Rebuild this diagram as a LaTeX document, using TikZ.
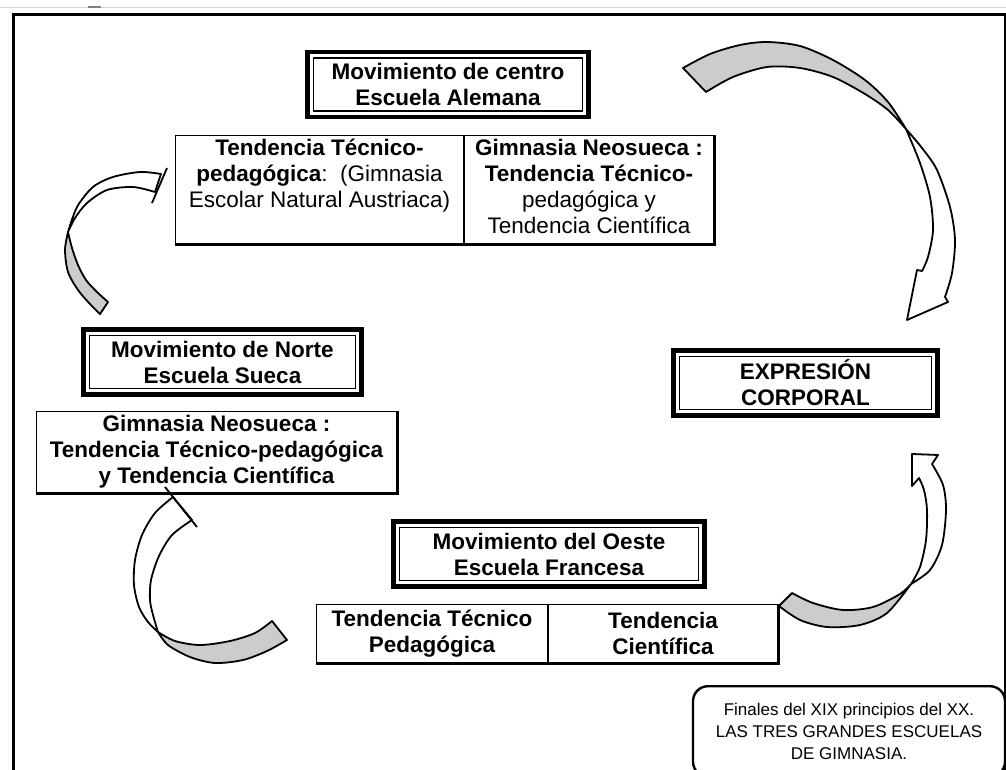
\documentclass[tikz,border=0pt]{standalone}
\usepackage{fontspec}
\setmainfont{Liberation Sans}
\usetikzlibrary{positioning}
\tikzset{
    txt/.style={
        align=center,
        inner sep=0pt,
        font=\fontsize{22.5}{26}\selectfont
    },
    btxt/.style={
        align=center,
        inner sep=0pt,
        font=\fontsize{22.5}{26}\selectfont\bfseries
    },
    cell/.style={
        rectangle,
        draw,
        line width=1pt
    },
    mvbox/.style={
        btxt,
        rectangle,
        draw,
        line width=1.2pt,
        minimum height=53pt
    },
    notebox/.style={
        rectangle,
        draw,
        rounded corners=15pt,
        line width=2.4pt,
        align=center,
        inner xsep=0pt,
        inner ysep=17pt,
        font=\fontsize{17}{22}\selectfont
    },
    backband/.style={fill=gray!40, draw, line width=1.8pt, line join=round},
    frontband/.style={fill=white, draw, line width=1.8pt, line join=round}
}
\begin{document}
\begin{tikzpicture}[x=1pt,y=-1pt]
    \clip (0,0) rectangle (1006,770);
    \fill[white] (0,0) rectangle (1006,770);
    \draw[gray!35, line width=1pt] (0,8) -- (1006,8);
    \draw[gray, line width=2pt] (88,7) -- (101,7);
    \draw[line width=3pt] (13,790) -- (13,15) -- (1005,15) -- (1005,790);

    % the four schools
    \node[mvbox, minimum width=269pt] (alem) at (448,84.5) {Movimiento de centro\\Escuela Alemana};
    \node[mvbox, minimum width=266pt] (norte) at (222.5,362) {Movimiento de Norte\\Escuela Sueca};
    \node[mvbox, minimum width=252pt] (expr) at (805.5,383) {EXPRESIÓN\\CORPORAL};
    \node[mvbox, minimum width=299pt] (oeste) at (549,554) {Movimiento del Oeste\\Escuela Francesa};
    \foreach \n in {alem,norte,expr,oeste}
        \draw[line width=4.5pt] ([shift={(-5.25pt,5.25pt)}]\n.north west) rectangle ([shift={(5.25pt,-5.25pt)}]\n.south east);

    % tendencias
    \node[cell, minimum width=288pt, minimum height=108pt, anchor=north west] (austr) at (175,135) {};
    \node[cell, minimum width=249pt, minimum height=108pt, anchor=north west] (neoA) at (austr.north east) {};
    \node[txt, below=3.5pt of austr.north] (austrT) {\textbf{Tendencia Técnico-}\\\textbf{pedagógica}:\ \ (Gimnasia\\Escolar Natural Austriaca)};
    \node[txt, below=3.5pt of neoA.north] (neoAT) {\textbf{Gimnasia Neosueca :}\\\textbf{Tendencia Técnico-}\\pedagógica y\\Tendencia Científica};
    \draw[line width=3pt] (austr.south west) -- (neoA.south east) -- (neoA.north east);

    \node[cell, btxt, minimum width=361pt, minimum height=82pt] (neoN) at (216.5,452) {Gimnasia Neosueca :\\Tendencia Técnico-pedagógica\\y Tendencia Científica};
    \draw[line width=3pt] (neoN.south west) -- (neoN.south east) -- (neoN.north east);

    \node[cell, btxt, minimum width=231pt, minimum height=58pt, anchor=north west] (tecF) at (316,604) {Tendencia Técnico\\Pedagógica};
    \node[cell, btxt, minimum width=229pt, minimum height=58pt, anchor=north west] (cienF) at (tecF.north east) {Tendencia\\Científica};
    \draw[line width=3pt] (tecF.south west) -- (cienF.south east) -- (cienF.north east);

    \node[notebox, minimum width=312pt, anchor=north] (nota) at (849,685) {Finales del XIX principios del XX.\\LAS TRES GRANDES ESCUELAS\\DE GIMNASIA.};

    % curved arrows
    \filldraw[backband] plot[smooth] coordinates {(683,68) (710,54) (740,45) (767,42) (800,46) (833,60) (865,80) (888,102) (906,129)}
        -- plot[smooth] coordinates {(906,129) (888,110) (865,94) (833,77) (800,68) (767,67) (733,77) (706,92)} -- cycle;
    \filldraw[frontband] plot[smooth] coordinates {(906,129) (920,163) (930,197) (933,230) (928,257) (922,271)}
        -- (917,270) -- (907,320) -- (948,302) -- (945,297)
        -- plot[smooth] coordinates {(945,297) (952,273) (955,240) (950,207) (937,170) (922,148) (906,129)} -- cycle;

    \filldraw[backband] plot[smooth] coordinates {(792,593) (813,603) (843,610) (873,607) (900,594) (911,584)}
        -- plot[smooth] coordinates {(911,584) (887,613) (860,625) (827,627) (800,620) (779,606)} -- cycle;
    \filldraw[frontband] plot[smooth] coordinates {(911,584) (920,567) (926,540) (927,510) (924,490) (919,478)}
        -- (912,486) -- (912,454) -- (938,455) -- (932,464)
        -- plot[smooth] coordinates {(932,464) (943,485) (946,510) (942,545) (930,570) (911,584)} -- cycle;

    \filldraw[backband] plot[smooth] coordinates {(100,314) (90,304) (78,290) (68,272) (65,250) (68,232)}
        -- plot[smooth] coordinates {(68,232) (72,248) (78,265) (86,280) (97,292) (108,302)} -- cycle;
    \filldraw[frontband] plot[smooth] coordinates {(68,232) (77,207) (93,187) (113,177) (140,172) (161,174)}
        -- (155,192)
        -- plot[smooth] coordinates {(155,192) (133,187) (107,190) (87,203) (75,218) (68,232)} -- cycle;
    \draw[line width=1.8pt] (167,168) -- (152,203);

    \filldraw[frontband] plot[smooth] coordinates {(173,497) (155,513) (142,535) (135,560) (134,585) (139,607) (148,622) (158,632)}
        -- plot[smooth] coordinates {(158,632) (153,615) (150,600) (151,580) (159,556) (172,535) (192,520)} -- cycle;
    \filldraw[backband] plot[smooth] coordinates {(158,632) (175,641) (200,645) (230,641) (255,633) (272,621)}
        -- (287,640)
        -- plot[smooth] coordinates {(287,640) (267,651) (243,660) (215,663) (190,657) (168,645) (158,632)} -- cycle;
    \draw[line width=1.8pt] (165,487) -- (197,527);
\end{tikzpicture}
\end{document}
